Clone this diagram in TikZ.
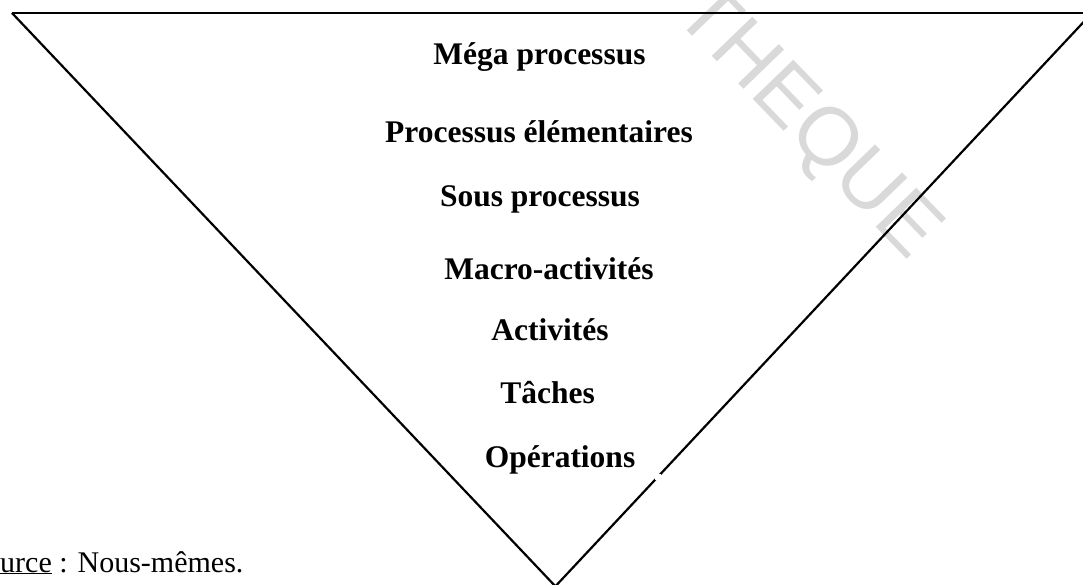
\documentclass[tikz,border=0pt]{standalone}
\usepackage{fontspec}
\setmainfont{Liberation Serif}
\newfontfamily\wmfont{Liberation Sans}
\definecolor{wmgray}{RGB}{217,217,217}
\begin{document}
\begin{tikzpicture}[x=1pt,y=-1pt,
  lvl/.style={anchor=base,inner sep=0pt,font=\fontsize{31.5}{36}\selectfont\bfseries},
  edge/.style={line width=2.5pt,line cap=butt,line join=miter}]
\useasboundingbox (0,0) rectangle (1083,585);
\clip (0,0) rectangle (1083,585);
\fill[white] (0,0) rectangle (1083,585);
% watermark
\node[rotate=-46,text=wmgray,inner sep=0pt,font=\fontsize{82}{90}\selectfont\wmfont] (wm) at (806,124) {THEQUE};
% triangle
\coordinate (tl) at (12,13);
\coordinate (tr) at (1092,13);
\coordinate (ap) at (555.4,586.3);
\draw[edge] (tl) -- (1083,13);
\draw[edge,line width=2.2pt] (tl) -- (ap) -- (tr);
\fill[white] (655,474) rectangle (660.5,479.5);
% labels
\node[lvl] (mega) at (539.5,65) {Méga processus};
\node[lvl] (elem) at (539,143) {Processus élémentaires};
\node[lvl] (sous) at (540,207) {Sous processus};
\node[lvl] (macro) at (549,279) {Macro-activités};
\node[lvl] (act) at (550,340) {Activités};
\node[lvl] (tach) at (547.5,403) {Tâches};
\node[lvl] (oper) at (560,467) {Opérations};
\node[anchor=base west,inner sep=0pt,font=\fontsize{30}{34}\selectfont] (src) at (0,572) {\underline{urce} : Nous-mêmes.};
\end{tikzpicture}
\end{document}
